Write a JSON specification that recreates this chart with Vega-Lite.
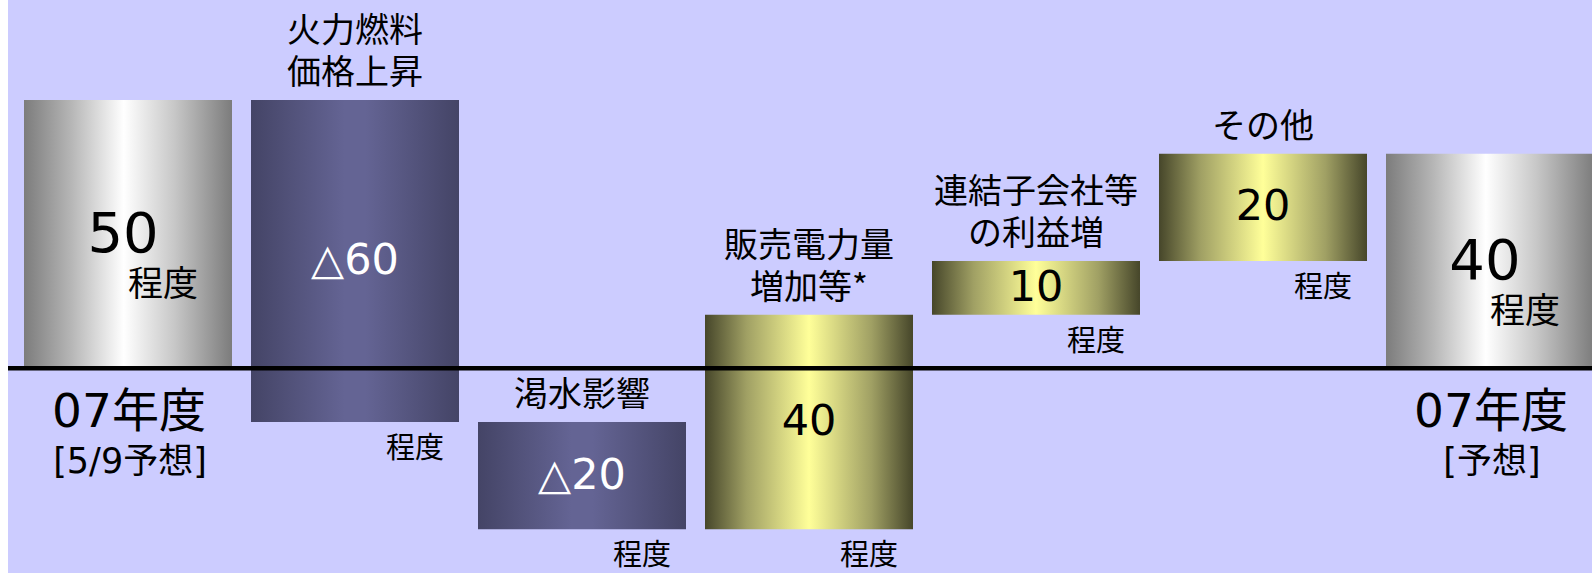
{
  "$schema": "https://vega.github.io/schema/vega-lite/v6.json",
  "width": 1602,
  "height": 573,
  "padding": {"left": 8, "top": 0, "right": 0, "bottom": 0},
  "autosize": {"type": "none"},
  "background": "white",
  "config": {"view": {"fill": "#ccccff", "stroke": null}},
  "data": {"values": [
    {"id": "a", "line1": "", "line2": "", "kind": "total", "high": 50, "low": 0, "value": "50", "year": "07年度", "sub": "[5/9予想]"},
    {"id": "b", "line1": "火力燃料", "line2": "価格上昇", "kind": "neg", "high": 50, "low": -10, "value": "△60", "year": "", "sub": ""},
    {"id": "c", "line1": "", "line2": "渇水影響", "kind": "neg", "high": -10, "low": -30, "value": "△20", "year": "", "sub": ""},
    {"id": "d", "line1": "販売電力量", "line2": "増加等*", "kind": "pos", "high": 10, "low": -30, "value": "40", "year": "", "sub": ""},
    {"id": "e", "line1": "連結子会社等", "line2": "の利益増", "kind": "pos", "high": 20, "low": 10, "value": "10", "year": "", "sub": ""},
    {"id": "f", "line1": "", "line2": "その他", "kind": "pos", "high": 40, "low": 20, "value": "20", "year": "", "sub": ""},
    {"id": "g", "line1": "", "line2": "", "kind": "total", "high": 40, "low": 0, "value": "40", "year": "07年度", "sub": "[予想]"}
  ]},
  "transform": [{"calculate": "(datum.high + datum.low) / 2", "as": "mid"}],
  "layer": [
    {
      "transform": [{"filter": "datum.kind == 'total'"}],
      "mark": {"type": "bar", "stroke": null, "fill": {"gradient": "linear", "x1": 0, "y1": 0, "x2": 1, "y2": 0, "stops": [
        {"offset": 0, "color": "#7c7c7c"},
        {"offset": 0.22, "color": "#b4b4b4"},
        {"offset": 0.48, "color": "#ffffff"},
        {"offset": 0.72, "color": "#c8c8c8"},
        {"offset": 1, "color": "#7c7c7c"}]}},
      "encoding": {
        "x": {"field": "id", "type": "nominal", "axis": null, "scale": {"domain": ["a", "b", "c", "d", "e", "f", "g"], "paddingInner": 0.0837, "paddingOuter": 0.0705}},
        "y": {"field": "high", "type": "quantitative", "axis": null, "scale": {"domain": [-38.15, 68.65], "nice": false, "zero": false}},
        "y2": {"field": "low"}
      }
    },
    {
      "transform": [{"filter": "datum.kind == 'neg'"}],
      "mark": {"type": "bar", "stroke": null, "fill": {"gradient": "linear", "x1": 0, "y1": 0, "x2": 1, "y2": 0, "stops": [
        {"offset": 0, "color": "#444466"},
        {"offset": 0.45, "color": "#646494"},
        {"offset": 0.55, "color": "#646494"},
        {"offset": 1, "color": "#444466"}]}},
      "encoding": {
        "x": {"field": "id", "type": "nominal"},
        "y": {"field": "high", "type": "quantitative"},
        "y2": {"field": "low"}
      }
    },
    {
      "transform": [{"filter": "datum.kind == 'pos'"}],
      "mark": {"type": "bar", "stroke": null, "fill": {"gradient": "linear", "x1": 0, "y1": 0, "x2": 1, "y2": 0, "stops": [
        {"offset": 0, "color": "#46462a"},
        {"offset": 0.2, "color": "#a0a064"},
        {"offset": 0.5, "color": "#ffff99"},
        {"offset": 0.8, "color": "#a0a064"},
        {"offset": 1, "color": "#46462a"}]}},
      "encoding": {
        "x": {"field": "id", "type": "nominal"},
        "y": {"field": "high", "type": "quantitative"},
        "y2": {"field": "low"}
      }
    },
    {
      "data": {"values": [{"base": 0}]},
      "mark": {"type": "rule", "color": "black", "strokeWidth": 4.5},
      "encoding": {"y": {"field": "base", "type": "quantitative"}}
    },
    {
      "transform": [{"filter": "datum.line2 != ''"}],
      "mark": {"type": "text", "baseline": "bottom", "align": "center", "fontSize": 34, "dy": -9, "font": "Noto Sans CJK JP", "color": "black"},
      "encoding": {
        "x": {"field": "id", "type": "nominal"},
        "y": {"field": "high", "type": "quantitative"},
        "text": {"field": "line2"}
      }
    },
    {
      "transform": [{"filter": "datum.line1 != ''"}],
      "mark": {"type": "text", "baseline": "bottom", "align": "center", "fontSize": 34, "dy": -51, "font": "Noto Sans CJK JP", "color": "black"},
      "encoding": {
        "x": {"field": "id", "type": "nominal"},
        "y": {"field": "high", "type": "quantitative"},
        "text": {"field": "line1"}
      }
    },
    {
      "transform": [{"filter": "datum.kind != 'total'"}],
      "mark": {"type": "text", "baseline": "middle", "align": "center", "fontSize": 43, "font": "DejaVu Sans, Noto Sans CJK JP"},
      "encoding": {
        "x": {"field": "id", "type": "nominal"},
        "y": {"field": "mid", "type": "quantitative"},
        "text": {"field": "value"},
        "color": {"condition": {"test": "datum.kind == 'neg'", "value": "white"}, "value": "black"}
      }
    },
    {
      "transform": [{"filter": "datum.kind == 'total'"}],
      "mark": {"type": "text", "baseline": "middle", "align": "center", "fontSize": 56, "dx": -5, "dy": 1, "font": "DejaVu Sans", "color": "black"},
      "encoding": {
        "x": {"field": "id", "type": "nominal"},
        "y": {"field": "mid", "type": "quantitative"},
        "text": {"field": "value"}
      }
    },
    {
      "transform": [{"filter": "datum.kind == 'total'"}],
      "mark": {"type": "text", "baseline": "middle", "align": "center", "fontSize": 35, "dx": 35, "dy": 51, "font": "Noto Sans CJK JP", "color": "black", "text": "程度"},
      "encoding": {
        "x": {"field": "id", "type": "nominal"},
        "y": {"field": "mid", "type": "quantitative"}
      }
    },
    {
      "transform": [{"filter": "datum.kind != 'total'"}],
      "mark": {"type": "text", "baseline": "top", "align": "center", "fontSize": 29, "dx": 60, "dy": 13, "font": "Noto Sans CJK JP", "color": "black", "text": "程度"},
      "encoding": {
        "x": {"field": "id", "type": "nominal"},
        "y": {"field": "low", "type": "quantitative"}
      }
    },
    {
      "transform": [{"filter": "datum.kind == 'total'"}],
      "mark": {"type": "text", "baseline": "alphabetic", "align": "center", "fontSize": 47, "dx": 1, "dy": 59, "font": "DejaVu Sans, Noto Sans CJK JP", "color": "black"},
      "encoding": {
        "x": {"field": "id", "type": "nominal"},
        "y": {"field": "low", "type": "quantitative"},
        "text": {"field": "year"}
      }
    },
    {
      "transform": [{"filter": "datum.kind == 'total'"}],
      "mark": {"type": "text", "baseline": "alphabetic", "align": "center", "fontSize": 35, "dx": 2, "dy": 105, "font": "DejaVu Sans, Noto Sans CJK JP", "color": "black"},
      "encoding": {
        "x": {"field": "id", "type": "nominal"},
        "y": {"field": "low", "type": "quantitative"},
        "text": {"field": "sub"}
      }
    }
  ]
}
